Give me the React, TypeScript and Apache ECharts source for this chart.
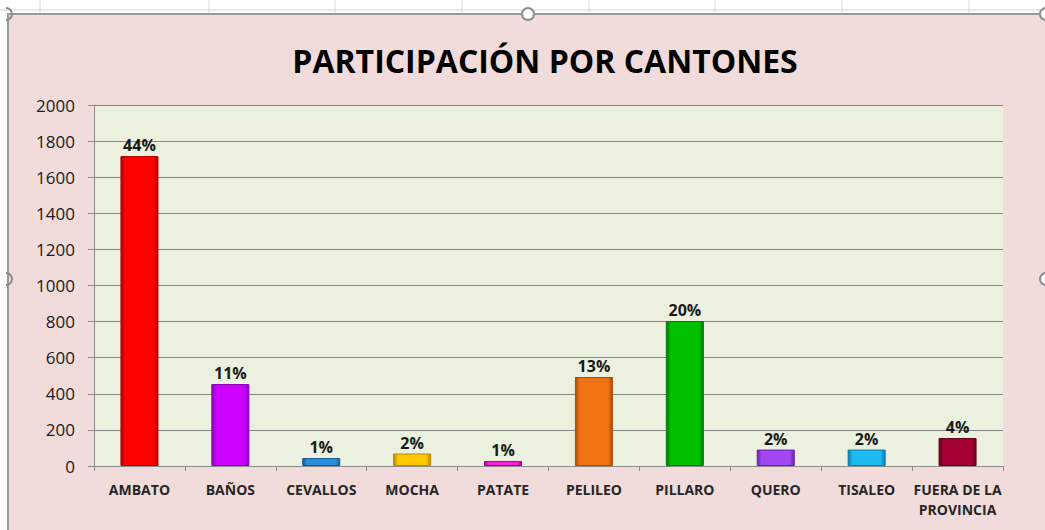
import React, { useEffect, useRef } from "react";
import * as echarts from "echarts";

const categories = [
  "AMBATO",
  "BAÑOS",
  "CEVALLOS",
  "MOCHA",
  "PATATE",
  "PELILEO",
  "PILLARO",
  "QUERO",
  "TISALEO",
  "FUERA DE LA\nPROVINCIA",
];
const values = [1717, 454, 44, 69, 28, 493, 803, 91, 91, 155];
const percentLabels = ["44%", "11%", "1%", "2%", "1%", "13%", "20%", "2%", "2%", "4%"];
const barColors = [
  "#FF0000",
  "#CC00FF",
  "#2A8FDB",
  "#FFC800",
  "#FF1FDB",
  "#F07414",
  "#00C000",
  "#A347F5",
  "#1EBBF0",
  "#A50034",
];
const barEdges = [
  "#B00000",
  "#8A00AD",
  "#165C94",
  "#B58A00",
  "#B0009A",
  "#A54D08",
  "#007A00",
  "#6A22AA",
  "#0A7DA6",
  "#660020",
];
const yTicks = { min: 0, max: 2000, interval: 200 };
const sheetGridX = [40, 209, 335, 462, 589, 715, 842, 969];

const FONT = "'Open Sans', sans-serif";

export default function App() {
  const ref = useRef<HTMLDivElement>(null);

  useEffect(() => {
    if (!ref.current) return;
    const chart = echarts.init(ref.current, undefined, { renderer: "svg" });

    const graphics: any[] = [];
    graphics.push({
      type: "rect",
      z: -10,
      shape: { x: 8, y: 14, width: 1045, height: 530 },
      style: { fill: "#F2DCDB", stroke: "#9A9A9A", lineWidth: 2 },
    });
    graphics.push({
      type: "line",
      z: -10,
      shape: { x1: 0, y1: 10, x2: 1045, y2: 10 },
      style: { stroke: "#D6D6D6", lineWidth: 1 },
    });
    sheetGridX.forEach((x) =>
      graphics.push({
        type: "line",
        z: -10,
        shape: { x1: x, y1: 0, x2: x, y2: 13 },
        style: { stroke: "#DADADA", lineWidth: 1 },
      })
    );
    const handleStyle = { fill: "#FFFFFF", stroke: "#8C8C8C", lineWidth: 2 };
    graphics.push({ type: "circle", z: 10, shape: { cx: 528, cy: 14, r: 6 }, style: handleStyle });
    graphics.push({ type: "circle", z: 10, shape: { cx: 1046, cy: 14, r: 6 }, style: handleStyle });
    graphics.push({ type: "circle", z: 10, shape: { cx: 1046, cy: 279, r: 6 }, style: handleStyle });
    graphics.push({
      type: "arc",
      z: 10,
      shape: { cx: 6, cy: 14, r: 6, startAngle: -Math.PI / 2, endAngle: Math.PI / 2 },
      style: { stroke: "#8C8C8C", lineWidth: 2, fill: "none" },
    });
    graphics.push({
      type: "arc",
      z: 10,
      shape: { cx: 6, cy: 279, r: 6, startAngle: -Math.PI / 2, endAngle: Math.PI / 2 },
      style: { stroke: "#8C8C8C", lineWidth: 2, fill: "none" },
    });

    const data = values.map((v, i) => ({
      value: v,
      itemStyle: {
        color: new echarts.graphic.LinearGradient(0, 0, 1, 0, [
          { offset: 0, color: barEdges[i] },
          { offset: 0.12, color: barColors[i] },
          { offset: 0.88, color: barColors[i] },
          { offset: 1, color: barEdges[i] },
        ]),
        borderColor: barEdges[i],
        borderWidth: 1,
      },
      label: { formatter: percentLabels[i] },
    }));

    chart.setOption({
      animation: false,
      backgroundColor: "#FFFFFF",
      title: {
        text: "PARTICIPACIÓN POR CANTONES",
        left: 540,
        textAlign: "center",
        top: 39,
        textStyle: {
          fontFamily: FONT,
          fontWeight: "bold",
          fontSize: 32,
          color: "#000000",
        },
      },
      graphic: graphics,
      grid: {
        left: 94,
        right: 42,
        top: 105,
        bottom: 64,
        show: true,
        backgroundColor: "#EBF1DE",
        borderWidth: 0,
      },
      xAxis: {
        type: "category",
        data: categories,
        axisLine: { show: true, lineStyle: { color: "#8C8C8C", width: 1 } },
        axisTick: { show: true, length: 5, lineStyle: { color: "#8C8C8C" } },
        axisLabel: {
          interval: 0,
          margin: 13,
          fontFamily: FONT,
          fontWeight: "bold",
          fontSize: 14,
          lineHeight: 20,
          color: "#262626",
        },
      },
      yAxis: {
        type: "value",
        min: yTicks.min,
        max: yTicks.max,
        interval: yTicks.interval,
        axisLine: { show: true, lineStyle: { color: "#8C8C8C", width: 1 } },
        axisTick: { show: true, length: 6, lineStyle: { color: "#8C8C8C" } },
        splitLine: { show: true, lineStyle: { color: "#858585", width: 1.2 } },
        axisLabel: {
          margin: 19,
          fontFamily: FONT,
          fontSize: 17,
          color: "#1A1A1A",
          formatter: (v: number) => String(v),
        },
      },
      series: [
        {
          type: "bar",
          data,
          barWidth: 38,
          label: {
            show: true,
            position: "top",
            distance: 3,
            fontFamily: FONT,
            fontWeight: "bold",
            fontSize: 16,
            color: "#1A1A1A",
          },
        },
      ],
    });

    return () => chart.dispose();
  }, []);

  return (
    <div
      ref={ref}
      style={{ position: "absolute", left: 0, top: 0, width: 1045, height: 530 }}
    />
  );
}
